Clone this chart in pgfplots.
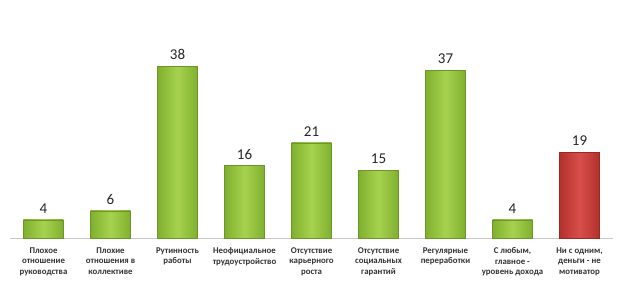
\documentclass[border=0pt]{standalone}
\usepackage{pgfplots}
\pgfplotsset{compat=1.18}
\usepackage{fontspec}
\setmainfont{Carlito}
\definecolor{gL}{HTML}{80AF2F}
\definecolor{gM}{HTML}{A6D24F}
\definecolor{rL}{HTML}{B3302C}
\definecolor{rM}{HTML}{D84F4B}
\definecolor{axc}{HTML}{C8C8C8}
\begin{document}
\begin{tikzpicture}
\begin{axis}[
  scale only axis,
  width=603pt, height=181pt,
  xmin=-0.5, xmax=8.5,
  ymin=0, ymax=40,
  axis x line=bottom,
  axis y line=none,
  x axis line style={-, draw=axc, line width=0.8pt},
  xtick={0,1,2,3,4,5,6,7,8},
  major tick length=0pt,
  xticklabels={
    {Плохое\\отношение\\руководства},
    {Плохие\\отношения в\\коллективе},
    {Рутинность\\работы},
    {Неофициальное\\трудоустройство},
    {Отсутствие\\карьерного\\роста},
    {Отсутствие\\социальных\\гарантий},
    {Регулярные\\переработки},
    {С любым,\\главное -\\уровень дохода},
    {Ни с одним,\\деньги - не\\мотиватор}},
  xticklabel style={align=center, font=\fontsize{8.8}{10.5}\selectfont\bfseries, text=black!80, anchor=north, yshift=-6pt},
  ybar, bar width=40pt,
  nodes near coords,
  every node near coord/.append style={font=\fontsize{15}{16}\selectfont, text=black!85, yshift=3pt},
  /pgf/number format/assume math mode=true,
  clip=false,
  gbar/.style={bar shift=0pt, draw=gL!85!black, line width=0.3pt, left color=gL, right color=gL, middle color=gM},
  rbar/.style={bar shift=0pt, draw=rL!85!black, line width=0.3pt, left color=rL, right color=rL, middle color=rM},
]
\addplot[gbar] coordinates {(0,4)};
\addplot[gbar] coordinates {(1,6)};
\addplot[gbar] coordinates {(2,38)};
\addplot[gbar] coordinates {(3,16)};
\addplot[gbar] coordinates {(4,21)};
\addplot[gbar] coordinates {(5,15)};
\addplot[gbar] coordinates {(6,37)};
\addplot[gbar] coordinates {(7,4)};
\addplot[rbar] coordinates {(8,19)};
\end{axis}
\path[use as bounding box] (-10pt,-45pt) rectangle (614pt,238pt);
\end{tikzpicture}
\end{document}
